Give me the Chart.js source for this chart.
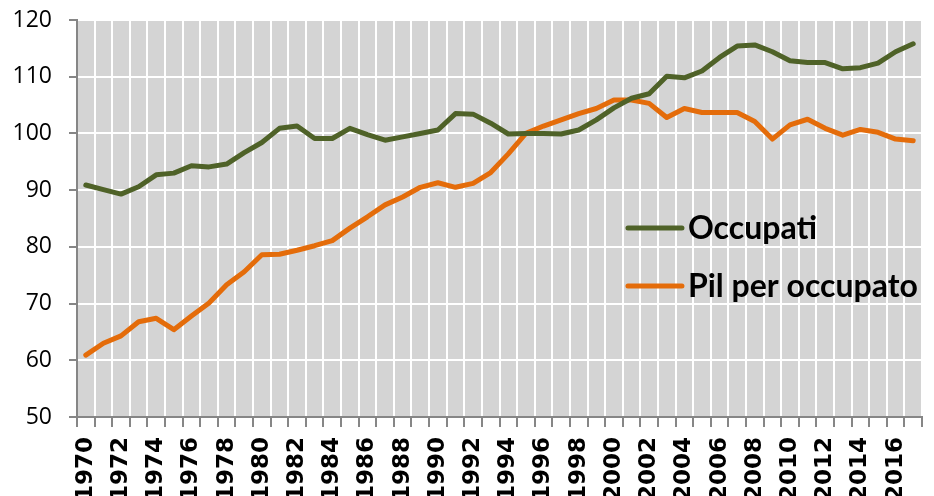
<!DOCTYPE html>
<html>
<head>
<meta charset="utf-8">
<script src="https://cdn.jsdelivr.net/npm/chart.js@4/dist/chart.umd.min.js"></script>
<style>
  html, body { margin: 0; padding: 0; background: #fff; }
  #wrap { width: 934px; height: 496px; }
</style>
</head>
<body>
<div id="wrap"><canvas id="myChart" width="934" height="496"></canvas></div>
<script>
  // Data
  const years = [
    1970, 1971, 1972, 1973, 1974, 1975, 1976, 1977, 1978, 1979,
    1980, 1981, 1982, 1983, 1984, 1985, 1986, 1987, 1988, 1989,
    1990, 1991, 1992, 1993, 1994, 1995, 1996, 1997, 1998, 1999,
    2000, 2001, 2002, 2003, 2004, 2005, 2006, 2007, 2008, 2009,
    2010, 2011, 2012, 2013, 2014, 2015, 2016, 2017
  ]
  const occupati = [
    90.9, 90.1, 89.3, 90.6, 92.7, 93.0, 94.3, 94.1, 94.6, 96.6,
    98.4, 100.9, 101.3, 99.1, 99.1, 100.9, 99.8, 98.8, 99.4, 100.0,
    100.6, 103.5, 103.4, 101.8, 99.9, 100.0, 100.0, 99.9, 100.6, 102.4,
    104.5, 106.2, 107.0, 110.1, 109.8, 111.0, 113.4, 115.4, 115.6, 114.4,
    112.8, 112.5, 112.5, 111.4, 111.6, 112.4, 114.4, 115.8
  ]
  const pilPerOccupato = [
    60.9, 63.0, 64.3, 66.8, 67.4, 65.4, 67.8, 70.1, 73.3, 75.6,
    78.6, 78.7, 79.4, 80.2, 81.1, 83.3, 85.3, 87.4, 88.8, 90.5,
    91.3, 90.5, 91.2, 93.1, 96.4, 100.0, 101.3, 102.4, 103.5, 104.4,
    105.9, 105.9, 105.3, 102.8, 104.4, 103.7, 103.7, 103.7, 102.1, 99.0,
    101.5, 102.5, 100.9, 99.7, 100.7, 100.2, 99.0, 98.7
  ]
  const yTicks = [50, 60, 70, 80, 90, 100, 110, 120]

  const GREEN = '#4f6228'
  const ORANGE = '#e46c0a'
  const AXIS = '#868686'

  // grey plot area
  const plotBackground = {
    id: 'plotBackground',
    beforeDraw(chart) {
      const { ctx, chartArea: a } = chart
      ctx.save()
      ctx.fillStyle = '#d4d4d4'
      ctx.fillRect(a.left, a.top, a.right - a.left, a.bottom - a.top)
      ctx.restore()
    }
  }

  // legend drawn inside the plot area
  const innerLegend = {
    id: 'innerLegend',
    afterDatasetsDraw(chart) {
      const { ctx, chartArea: a } = chart
      const x = a.left + (a.right - a.left) * 0.652
      let y = a.top + (a.bottom - a.top) * 0.524
      ctx.save()
      ctx.font = 'bold 32px Lato'
      ctx.textBaseline = 'middle'
      chart.data.datasets.forEach(ds => {
        ctx.strokeStyle = ds.borderColor
        ctx.lineWidth = 5
        ctx.lineCap = 'round'
        ctx.beginPath()
        ctx.moveTo(x, y)
        ctx.lineTo(x + 54, y)
        ctx.stroke()
        ctx.fillStyle = '#000'
        ctx.fillText(ds.label, x + 60, y + 1)
        y += 58
      })
      ctx.restore()
    }
  }

  const ctx = document.getElementById('myChart')
  // eslint-disable-next-line no-unused-vars
  const myChart = new Chart(ctx, {
    type: 'line',
    data: {
      labels: years.map(String),
      datasets: [{
        label: 'Occupati',
        data: occupati,
        borderColor: GREEN,
        backgroundColor: GREEN,
        borderWidth: 5,
        pointRadius: 0,
        tension: 0,
        borderCapStyle: 'round',
        borderJoinStyle: 'round'
      }, {
        label: 'Pil per occupato',
        data: pilPerOccupato,
        borderColor: ORANGE,
        backgroundColor: ORANGE,
        borderWidth: 5,
        pointRadius: 0,
        tension: 0,
        borderCapStyle: 'round',
        borderJoinStyle: 'round'
      }]
    },
    options: {
      responsive: false,
      animation: false,
      layout: { padding: { left: 0, right: 12, top: 20, bottom: 0 } },
      plugins: {
        legend: { display: false },
        tooltip: { enabled: false }
      },
      scales: {
        x: {
          offset: true,
          grid: {
            offset: true,
            color: '#fff',
            lineWidth: 2,
            tickColor: AXIS,
            tickLength: 10
          },
          border: { color: AXIS, width: 2 },
          ticks: {
            autoSkip: false,
            minRotation: 90,
            maxRotation: 90,
            padding: 10,
            color: '#000',
            font: { family: 'DejaVu Sans', weight: 'bold', size: 23 },
            callback: (val, i) => (i % 2 === 0 ? String(years[i]) : '')
          },
          afterFit: scale => {
            scale.height = 79
            scale.paddingLeft = 0
            scale.paddingRight = 0
          }
        },
        y: {
          min: yTicks[0],
          max: yTicks[yTicks.length - 1],
          afterBuildTicks: scale => { scale.ticks = yTicks.map(v => ({ value: v })) },
          grid: {
            color: '#fff',
            lineWidth: 2,
            tickColor: AXIS,
            tickLength: 8
          },
          border: { color: AXIS, width: 2 },
          ticks: {
            padding: 17,
            color: '#000',
            font: { family: 'Open Sans', size: 23 }
          },
          afterFit: scale => {
            scale.width = 77
            scale.paddingTop = 0
            scale.paddingBottom = 0
          }
        }
      }
    },
    plugins: [plotBackground, innerLegend]
  })
</script>
</body>
</html>
